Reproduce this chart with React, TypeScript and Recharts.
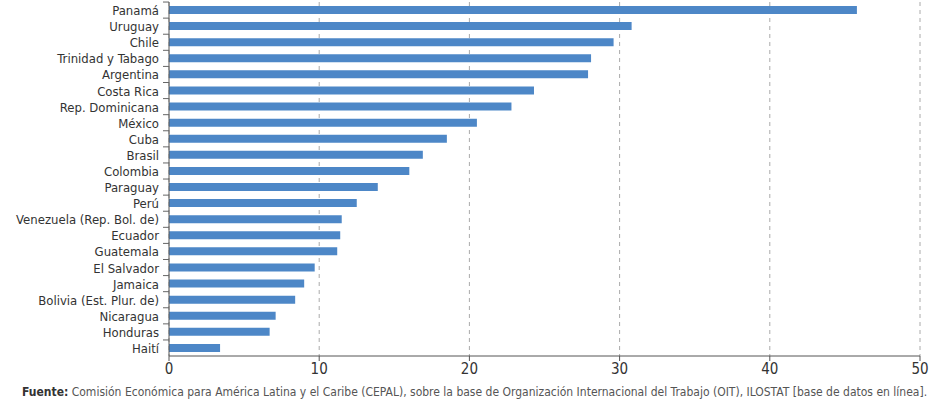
import { Bar, BarChart, CartesianGrid, XAxis, YAxis } from 'recharts';

const countries = [
  'Panamá',
  'Uruguay',
  'Chile',
  'Trinidad y Tabago',
  'Argentina',
  'Costa Rica',
  'Rep. Dominicana',
  'México',
  'Cuba',
  'Brasil',
  'Colombia',
  'Paraguay',
  'Perú',
  'Venezuela (Rep. Bol. de)',
  'Ecuador',
  'Guatemala',
  'El Salvador',
  'Jamaica',
  'Bolivia (Est. Plur. de)',
  'Nicaragua',
  'Honduras',
  'Haití',
];

const values = [
  45.8, 30.8, 29.6, 28.1, 27.9, 24.3, 22.8, 20.5, 18.5, 16.9, 16.0, 13.9,
  12.5, 11.5, 11.4, 11.2, 9.7, 9.0, 8.4, 7.1, 6.7, 3.4,
];

const xTicks = [0, 10, 20, 30, 40, 50];

const data = countries.map((name, i) => ({ name, value: values[i] }));

const FONT = '"DejaVu Sans", sans-serif';
const narrow = { fontStretch: 'condensed' as const };

const CategoryTick = ({ x, y, payload }: { x?: number; y?: number; payload?: { value: string } }) => {
  const cx = x ?? 0;
  const cy = y ?? 0;
  return (
    <g>
      <line x1={cx + 4} x2={cx + 10} y1={cy - 8} y2={cy - 8} stroke="#666" />
      <text
        x={cx}
        y={cy}
        dy={5}
        textAnchor="end"
        fill="#333"
        fontSize={13}
        fontFamily={FONT}
        style={narrow}
      >
        {payload?.value}
      </text>
    </g>
  );
};

export default function App() {
  return (
    <div
      style={{
        position: 'absolute',
        left: 0,
        top: 0,
        width: 940,
        height: 400,
        overflow: 'hidden',
        background: '#fff',
      }}
    >
      <BarChart
        width={940}
        height={400}
        data={data}
        layout="vertical"
        margin={{ top: 2, right: 20, left: 0, bottom: 10 }}
        barCategoryGap={4}
      >
        <CartesianGrid horizontal={false} strokeDasharray="4 4" stroke="#aaa" />
        <XAxis
          type="number"
          domain={[0, 50]}
          ticks={xTicks}
          stroke="#555"
          tick={{ fill: '#333', fontSize: 15, fontFamily: FONT, style: narrow }}
          tickSize={5}
          height={34}
          interval={0}
        />
        <YAxis
          type="category"
          dataKey="name"
          width={169}
          stroke="#555"
          tickLine={false}
          tick={<CategoryTick />}
          interval={0}
          tickMargin={4}
        />
        <Bar dataKey="value" fill="#4d87c7" barSize={8} isAnimationActive={false} />
      </BarChart>
      <div
        style={{
          position: 'absolute',
          left: 22,
          top: 385,
          fontSize: 12,
          fontFamily: FONT,
          fontStretch: 'condensed',
          color: '#555',
          whiteSpace: 'nowrap',
        }}
      >
        <b style={{ color: '#333' }}>Fuente:</b> Comisión Económica para América Latina y el Caribe (CEPAL), sobre la base de
        Organización Internacional del Trabajo (OIT), ILOSTAT [base de datos en línea].
      </div>
    </div>
  );
}
